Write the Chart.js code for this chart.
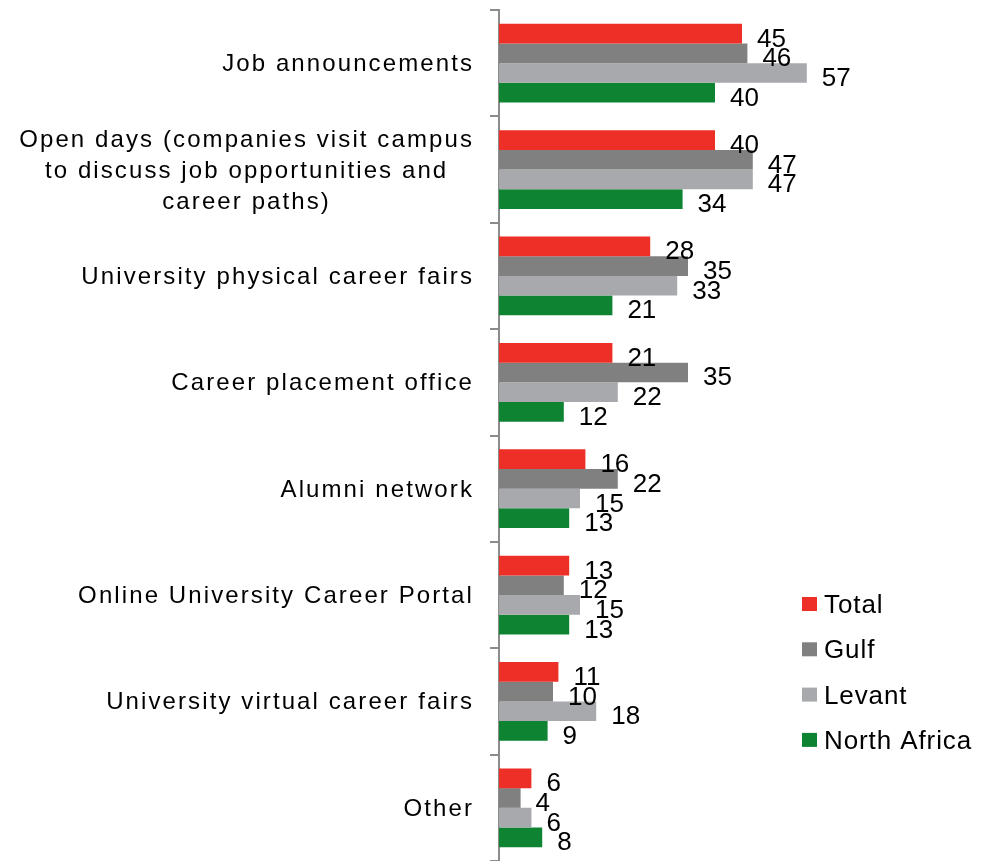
<!DOCTYPE html>
<html lang="en">
<head>
    <meta charset="UTF-8">
    <title>Job search channels</title>
    <script src="https://cdn.jsdelivr.net/npm/chart.js"></script>
    <style>
        body {
            margin: 0;
            background-color: #ffffff;
        }

        #wrap {
            position: relative;
            width: 994px;
            height: 861px;
        }
    </style>
</head>
<body>
    <div id="wrap">
        <canvas id="barChart"></canvas>
    </div>

    <script>
        // categories (multi-line labels are arrays of lines)
        const categories = [
            ['Job announcements'],
            ['Open days (companies visit campus', 'to discuss job opportunities and', 'career paths)'],
            ['University physical career fairs'],
            ['Career placement office'],
            ['Alumni network'],
            ['Online University Career Portal'],
            ['University virtual career fairs'],
            ['Other']
        ];

        const seriesNames = ['Total', 'Gulf', 'Levant', 'North Africa'];
        const totalValues = [45, 40, 28, 21, 16, 13, 11, 6];
        const gulfValues = [46, 47, 35, 35, 22, 12, 10, 4];
        const levantValues = [57, 47, 33, 22, 15, 15, 18, 6];
        const northAfricaValues = [40, 34, 21, 12, 13, 13, 9, 8];

        const seriesColors = ['#EE2F27', '#808080', '#A7A9AC', '#0E8433'];
        const axisGray = '#8C8C8C';

        // value labels at the end of every bar
        const valueLabels = {
            id: 'valueLabels',
            afterDatasetsDraw(chart) {
                const ctx = chart.ctx;
                ctx.save();
                ctx.font = '26px "Liberation Sans", Arial, sans-serif';
                ctx.fillStyle = '#000';
                ctx.textAlign = 'left';
                ctx.textBaseline = 'alphabetic';
                chart.data.datasets.forEach((ds, i) => {
                    chart.getDatasetMeta(i).data.forEach((bar, j) => {
                        ctx.fillText(String(ds.data[j]), bar.x + 15, bar.y + 13);
                    });
                });
                ctx.restore();
            }
        };

        // category labels: block right aligned, lines centred inside it
        const categoryLabels = {
            id: 'categoryLabels',
            afterDraw(chart) {
                const ctx = chart.ctx;
                const yScale = chart.scales.y;
                const rightEdge = yScale.right - 25;
                const lineHeight = 31;
                ctx.save();
                ctx.font = '24px "Liberation Sans", Arial, sans-serif';
                ctx.letterSpacing = '2.1px';
                ctx.fillStyle = '#000';
                ctx.textAlign = 'center';
                ctx.textBaseline = 'alphabetic';
                chart.data.labels.forEach((lines, i) => {
                    const yc = yScale.getPixelForValue(i);
                    const widest = Math.max(...lines.map(l => ctx.measureText(l).width));
                    const cx = rightEdge - widest / 2;
                    lines.forEach((line, k) => {
                        const y = yc - (lines.length - 1) * lineHeight / 2 + k * lineHeight + 8;
                        ctx.fillText(line, cx, y);
                    });
                });
                ctx.restore();
            }
        };

        // legend on the right, over the empty part of the chart
        const sideLegend = {
            id: 'sideLegend',
            afterDraw(chart) {
                const ctx = chart.ctx;
                ctx.save();
                ctx.font = '26px "Liberation Sans", Arial, sans-serif';
                ctx.letterSpacing = '0.9px';
                ctx.textAlign = 'left';
                ctx.textBaseline = 'alphabetic';
                chart.data.datasets.forEach((ds, i) => {
                    const yc = 604 + i * 45.3;
                    ctx.fillStyle = ds.backgroundColor;
                    ctx.fillRect(802, yc - 7, 15, 14);
                    ctx.fillStyle = '#000';
                    ctx.fillText(ds.label, 824, yc + 9);
                });
                ctx.restore();
            }
        };

        const valueSets = [totalValues, gulfValues, levantValues, northAfricaValues];

        const ctx = document.getElementById('barChart').getContext('2d');
        const chart = new Chart(ctx, {
            type: 'bar',
            data: {
                labels: categories,
                datasets: seriesNames.map((name, i) => ({
                    label: name,
                    data: valueSets[i],
                    backgroundColor: seriesColors[i],
                    borderWidth: 0,
                    barPercentage: 1,
                    categoryPercentage: 0.74
                }))
            },
            options: {
                indexAxis: 'y',
                responsive: true,
                maintainAspectRatio: false,
                animation: false,
                layout: {
                    padding: { top: 10, bottom: 0, left: 0, right: 63 }
                },
                plugins: {
                    legend: { display: false },
                    tooltip: { enabled: false }
                },
                scales: {
                    x: {
                        display: false,
                        min: 0,
                        max: 80
                    },
                    y: {
                        offset: true,
                        grid: {
                            offset: true,
                            drawOnChartArea: false,
                            drawTicks: true,
                            tickLength: 9,
                            color: axisGray,
                            lineWidth: 2
                        },
                        border: { color: axisGray, width: 2 },
                        ticks: { display: false },
                        afterFit: (scale) => { scale.width = 499; }
                    }
                }
            },
            plugins: [valueLabels, categoryLabels, sideLegend]
        });
    </script>
</body>
</html>
